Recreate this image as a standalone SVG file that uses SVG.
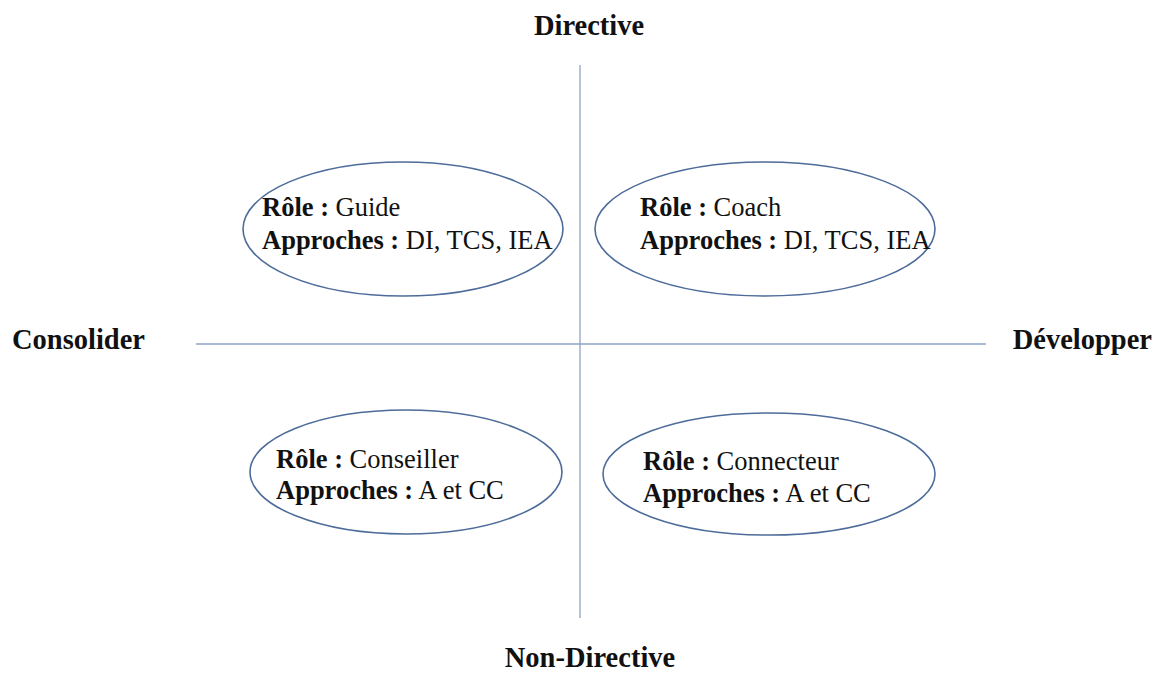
<svg xmlns="http://www.w3.org/2000/svg" width="1157" height="675" viewBox="0 0 1157 675">
<style>
.axis{stroke:#8ea3c4;stroke-width:1.3;fill:none}
.node{fill:none;stroke:#4d6c9a;stroke-width:1.6}
.t{font-family:"Liberation Serif","Tinos","DejaVu Serif",serif;font-size:26.5px;font-weight:normal;fill:#111}
.b{font-weight:bold}
.lbl{font-family:"Liberation Serif","Tinos","DejaVu Serif",serif;font-size:28.5px;font-weight:bold;fill:#111}
</style>
<rect width="1157" height="675" fill="#fff"/>
<g id="axes">
<line class="axis" x1="580" y1="65" x2="580" y2="618"/>
<line class="axis" x1="196" y1="344" x2="986" y2="344"/>
</g>
<g id="labels">
<text class="lbl" x="589" y="35" text-anchor="middle">Directive</text>
<text class="lbl" x="590" y="667" text-anchor="middle">Non-Directive</text>
<text class="lbl" x="12" y="349">Consolider</text>
<text class="lbl" x="1152" y="349" text-anchor="end">Développer</text>
</g>
<g id="guide">
<ellipse class="node" cx="403" cy="229" rx="160" ry="67"/>
<text class="t" x="262" y="216"><tspan class="b">Rôle :</tspan> Guide</text>
<text class="t" x="262" y="249"><tspan class="b">Approches :</tspan> DI, TCS, IEA</text>
</g>
<g id="coach">
<ellipse class="node" cx="765" cy="229" rx="170" ry="67"/>
<text class="t" x="640" y="216"><tspan class="b">Rôle :</tspan> Coach</text>
<text class="t" x="640" y="249"><tspan class="b">Approches :</tspan> DI, TCS, IEA</text>
</g>
<g id="conseiller">
<ellipse class="node" cx="406" cy="472" rx="156" ry="62"/>
<text class="t" x="276" y="468"><tspan class="b">Rôle :</tspan> Conseiller</text>
<text class="t" x="276" y="499"><tspan class="b">Approches :</tspan> A et CC</text>
</g>
<g id="connecteur">
<ellipse class="node" cx="769" cy="474" rx="166" ry="61"/>
<text class="t" x="643" y="470"><tspan class="b">Rôle :</tspan> Connecteur</text>
<text class="t" x="643" y="502"><tspan class="b">Approches :</tspan> A et CC</text>
</g>
</svg>
